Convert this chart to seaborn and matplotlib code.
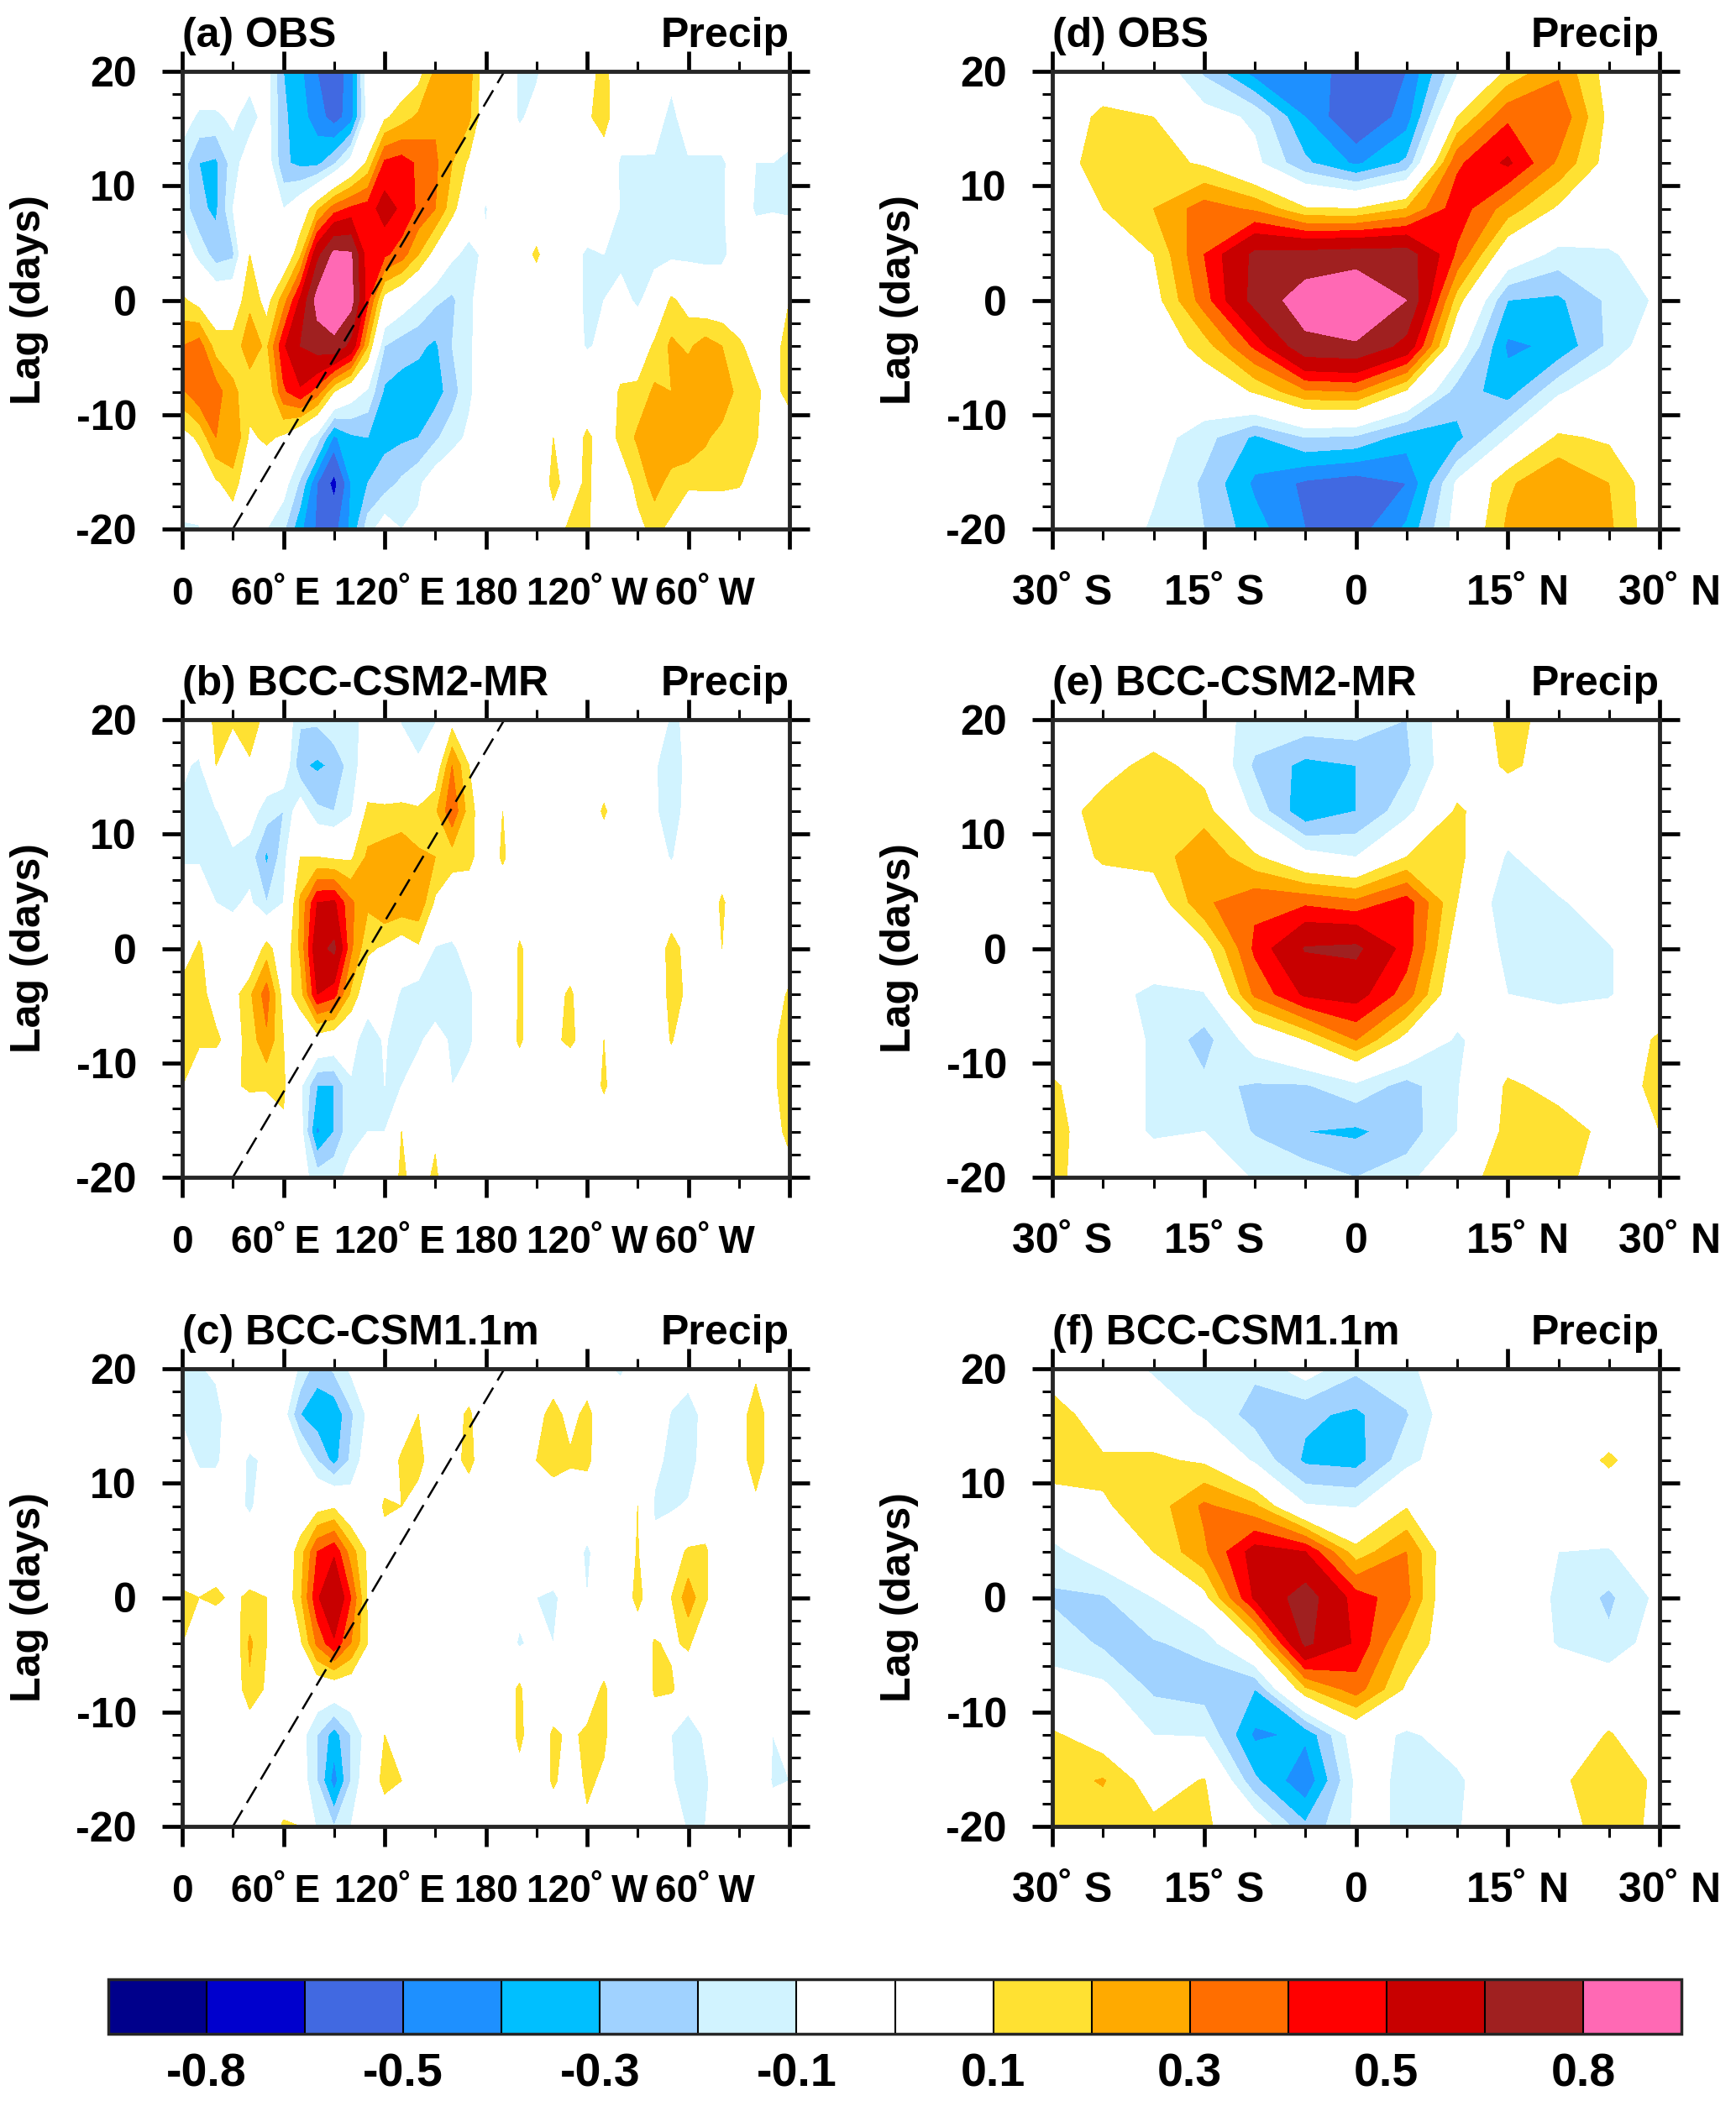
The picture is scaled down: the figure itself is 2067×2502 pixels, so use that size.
import numpy as np
import matplotlib
matplotlib.use('Agg')
import matplotlib.pyplot as plt
import matplotlib.transforms as mtrans
import seaborn as sns

# lag rows run from +20 down to -20 days, values are hundredths of the colorbar unit
lags = [20, 16, 12, 8, 4, 0, -4, -8, -12, -16, -20]
lons = list(range(0, 361, 10))
lats = list(range(-30, 31, 5))

levels = [-0.8, -0.65, -0.5, -0.4, -0.3, -0.2, -0.1, 0, 0.1, 0.2, 0.3, 0.4, 0.5, 0.65, 0.8]
shades = ['#00008B', '#0000CD', '#4169E1', '#1E90FF', '#00BFFF', '#A0D2FF', '#D1F3FF', '#FFFFFF',
          '#FFFFFF', '#FFE132', '#FFAA00', '#FF6E00', '#FF0000', '#C80000', '#A02020', '#FF69B4']
cbar_ticks = [-0.8, -0.5, -0.3, -0.1, 0.1, 0.3, 0.5, 0.8]

lon_ticks = [0, 60, 120, 180, 240, 300, 360]
lon_labels = ['0', '60˚\u2009E', '120˚\u2009E', '180', '120˚\u2009W', '60˚\u2009W', '']
lat_ticks = [-30, -15, 0, 15, 30]
lat_labels = ['30˚ S', '15˚ S', '0', '15˚ N', '30˚ N']

# dashed reference line on the longitude panels
dash_lon = [30, 191]
dash_lag = [-20, 20]

obs_lon = [
    [0, 0, 0, -8, -5, -5, -30, -38, -50, -58, -45, -3, 0, 0, 5, 22, 28, 25, 0, 0, -12, -12, 0, 0, 5, 14, 0, 0, 0, -5, 0, 0, 0, 0, 0, 0, 0],
    [-5, -12, -12, -8, -15, -5, -28, -36, -45, -55, -45, -5, 8, 15, 22, 28, 30, 22, 0, 0, -12, -5, 0, 0, 8, 15, 0, 0, -2, -15, 0, 0, 0, 0, 0, -8, -5],
    [-15, -30, -32, -15, -3, -3, -28, -33, -33, -22, -5, 12, 42, 45, 38, 32, 20, 8, 0, 0, 0, 0, 0, 0, 10, 3, -12, -12, -12, -20, -12, -12, -12, -3, -10, -10, -12],
    [-14, -28, -32, -10, 0, -3, -10, 0, 18, 35, 42, 45, 55, 48, 38, 30, 14, -3, -11, 0, 0, 0, 0, 0, 0, 0, -11, -11, -11, -20, -11, -11, -11, -5, -11, -11, -12],
    [-3, -13, -25, -22, 10, -10, -3, 18, 60, 84, 82, 42, 42, 35, 20, 5, -8, -13, -8, 0, 3, 12, 0, -5, -12, -10, -13, -13, -13, -13, -13, -13, -13, -3, -5, 0, 0],
    [12, 5, 0, 0, 18, 5, 25, 52, 86, 92, 86, 42, 5, -3, -10, -18, -22, -12, -4, 0, 0, 0, 0, -5, -12, -10, -6, -12, -4, 12, 5, 0, 0, 0, 0, 0, 10],
    [30, 35, 15, 15, 25, 18, 48, 65, 72, 76, 60, 20, -20, -25, -28, -32, -20, -12, -3, 0, 0, 0, 0, -5, -11, -8, 0, 0, 12, 22, 18, 25, 20, 12, 5, 5, 15],
    [28, 38, 35, 22, 15, 10, 38, 48, 35, 10, -3, -12, -32, -35, -35, -35, -25, -12, -3, 0, 0, 0, 0, 0, 0, 0, 12, 13, 22, 20, 28, 30, 30, 15, 12, 5, 15],
    [5, 12, 30, 30, 8, 12, 8, -3, -15, -42, -32, -30, -33, -32, -30, -22, -14, -8, 0, 0, 0, 0, 10, 3, 12, 5, 12, 22, 24, 30, 28, 22, 15, 13, 11, 2, 0],
    [0, 0, 8, 15, 0, 0, -5, -22, -50, -70, -40, -30, -25, -18, -12, -3, 0, 0, 0, 0, 0, 0, 13, 5, 12, 3, 5, 12, 25, 15, 13, 12, 12, 11, 5, 0, 0],
    [-12, -11, 10, 2, -5, -10, -18, -38, -52, -54, -38, -15, -3, -10, -8, 0, 0, 0, 0, 0, 0, 0, 5, 12, 12, 0, 0, 8, 12, 8, -8, 0, 0, 0, 0, 0, 0],
]

csm2_lon = [
    [3, 0, 13, 12, 18, 5, 0, -18, -18, -11, -15, -5, -3, -11, -17, -11, 5, 0, -8, 0, 0, 0, 0, 0, 0, 0, 0, 0, 0, -12, -8, 10, 0, 0, 0, 0, 0],
    [-8, -12, 10, 0, 8, 0, 0, -28, -32, -28, -15, -3, -2, -3, -8, 0, 30, 10, 0, 0, 0, 0, 0, 0, 0, 0, 0, 0, -8, -20, -5, 0, 0, 0, 0, 0, -8],
    [-12, -15, -11, -3, -5, -15, -20, -2, -18, -20, -12, 13, 12, 13, 12, 18, 38, 15, 0, 10, 0, 0, 0, 0, 0, 12, 0, 0, -8, -18, -4, 0, 0, 0, 0, 0, -3],
    [-12, -12, -12, -12, -15, -32, -14, 10, 10, 8, 8, 22, 25, 28, 22, 20, 15, 14, 0, 12, 0, 0, 0, 0, 0, 0, 0, 0, -5, -11, -3, 0, 0, 0, 0, 0, 0],
    [0, 0, -10, -12, -8, -20, -10, 22, 50, 52, 32, 22, 30, 28, 28, 8, 0, 0, 0, 0, 0, 0, 0, 0, 0, 0, 0, 0, 0, 0, 0, 0, 12, 0, 0, 0, 0],
    [2, 12, 0, -3, -5, 15, 0, 22, 60, 68, 32, 12, 8, 2, 8, -11, -12, -5, -3, -10, 12, 0, 0, 0, 0, 0, 0, 0, 0, 15, 5, 0, 10, 0, 0, 0, 0],
    [15, 14, 5, 5, 18, 35, 5, 15, 50, 44, 18, 0, 0, -12, -18, -18, -13, -12, -3, -10, 12, 0, 5, 12, 0, 0, 0, 0, 0, 14, 8, 0, 0, 0, 0, 3, 12],
    [15, 12, 12, 5, 14, 28, 10, 0, 3, 0, -3, -20, -8, -20, -12, -5, -12, -12, -3, 0, 12, 0, 8, 12, 5, 10, 0, 0, 0, 11, 0, 0, 0, 0, 0, 8, 15],
    [10, 0, 0, 8, 12, 12, 12, -8, -30, -30, -12, -18, -10, -10, -4, -3, -10, -5, 0, 0, 0, 0, 0, 0, 0, 12, 0, 0, 0, 0, 0, 0, 0, 0, 0, 8, 15],
    [10, 0, 0, 0, -3, -5, 8, -5, -42, -30, -12, -10, -10, 10, 5, 8, 0, 0, 0, 0, -10, -8, -3, -10, 0, 0, 0, 0, 0, 5, 0, 0, 0, 10, 0, 3, 15],
    [0, -8, 0, 0, -8, -10, 0, -5, -15, -12, -8, 0, 0, 12, 5, 12, 0, 0, 0, 0, -8, -10, -5, -10, 0, 8, 0, 0, 0, 8, 0, 0, 0, 0, 0, 0, 3],
]

csm11_lon = [
    [-12, -11, -8, 0, 0, 0, 0, -12, -26, -18, -8, 0, 0, 0, 0, -3, 0, 0, 0, 0, 0, 0, 0, 0, 0, -8, -12, -3, 0, 0, 0, 0, 0, 0, 5, 0, 0],
    [-12, -14, -14, -3, 0, -8, -5, -30, -36, -38, -22, -8, -3, 0, 10, 0, 5, 12, 0, 0, 0, 5, 15, 5, 14, 0, 0, 0, 0, -11, -20, -3, 0, 0, 20, 0, 0],
    [-3, -12, -12, -3, -12, -8, -3, -5, -20, -34, -18, -3, 0, 12, 15, 0, 5, 14, 0, 0, 0, 10, 14, 12, 13, 0, 0, 0, -8, -12, -20, 0, -8, 0, 20, 0, 0],
    [0, 0, 0, -5, -12, -3, 0, 0, 5, 8, -3, -3, 12, 10, 3, 0, 0, 0, 0, 0, 0, 10, 3, 0, 0, 0, 0, 10, -11, -12, -8, 0, -10, 0, 5, 0, 0],
    [0, 0, 3, 8, 0, 0, 0, 15, 40, 48, 25, 8, 3, 0, 0, 0, 0, 0, 0, 0, 0, 0, 0, -3, -12, -3, 0, 11, -8, 3, 12, 12, 0, 0, -9, 8, 3],
    [12, 10, 12, 8, 12, 10, 0, 18, 48, 65, 40, 8, 0, -8, -10, 0, 0, -10, 0, 0, -5, -10, -12, -5, -10, -3, 0, 14, 0, 10, 26, 12, 0, -5, -10, 0, 0],
    [10, 0, 0, 0, 22, 10, 0, 8, 32, 48, 30, 10, 0, -8, -8, 0, -8, -5, 0, 0, -12, -5, -10, 0, 0, 0, 5, 0, 11, 8, 12, 0, 0, -8, -5, 0, 0],
    [0, 0, 0, 0, 18, 8, 0, 0, 0, 0, 0, 0, 0, 0, 0, 0, 0, 0, 0, 0, 13, -8, 0, 0, 3, 12, 0, 0, 11, 12, 0, 0, 0, 0, 0, 0, 0],
    [0, 0, 0, 0, 0, 0, 0, -5, -20, -35, -20, -5, 10, 0, 0, 0, 0, 0, 0, 0, 13, 0, 12, 8, 12, 12, 0, 0, 5, -10, -18, -8, 0, 0, 0, -10, -8],
    [0, 0, 0, -3, -10, -8, -2, -3, -20, -45, -20, 0, 14, 10, 0, 3, 10, 10, 0, 0, 5, 0, 12, 3, 12, 8, 0, 0, 0, -8, -20, -12, -3, 0, 8, -12, -10],
    [0, 0, 0, 0, -10, 0, 12, 10, -12, -20, -10, 5, 0, 0, 0, 10, 10, 10, 0, 10, 0, 0, 0, 0, 8, 0, 0, 0, 0, 0, -12, -10, 0, 0, 10, 0, 0],
]

obs_lat = [
    [0, 0, 0, -22, -45, -45, -55, -50, -12, 12, 28, 5, 10],
    [0, 13, 10, -5, -12, -40, -62, -45, 10, 38, 38, 7, 10],
    [0, 18, 15, 8, -7, -28, -42, -28, 38, 52, 28, 5, 0],
    [0, 10, 20, 35, 28, 11, 10, 20, 46, 25, 8, 3, 0],
    [0, 0, 10, 40, 68, 70, 72, 72, 38, 0, -14, -12, -2],
    [0, 0, 5, 35, 70, 88, 96, 80, 15, -30, -32, -18, -8],
    [0, -10, 0, 15, 42, 76, 78, 60, -3, -42, -38, -18, 0],
    [0, 0, 0, 0, 11, 28, 30, 8, -25, -35, -12, 0, 0],
    [0, 0, -5, -16, -32, -20, -22, -35, -33, -10, 12, 8, 0],
    [0, 0, -8, -22, -42, -52, -56, -50, -8, 18, 30, 20, 0],
    [0, 0, -12, -20, -36, -50, -55, -38, -5, 22, 30, 22, 0],
]

csm2_lat = [
    [0, 0, 0, -5, -13, -13, -12, -20, 0, 14, 5, 0, 0],
    [0, 5, 14, 5, -22, -33, -30, -22, 0, 12, 5, 0, 0],
    [3, 15, 19, 15, -13, -38, -30, -14, 12, 0, 0, 0, 0],
    [0, 12, 14, 28, 12, -5, -10, 10, 14, -12, 0, 0, 0],
    [0, 0, 2, 28, 38, 38, 33, 45, 10, -20, -12, -2, 0],
    [0, -9, 0, 5, 42, 66, 68, 45, 3, -13, -14, -11, 0],
    [0, -5, -13, -11, 32, 52, 55, 35, -2, -10, -13, -11, 0],
    [0, 0, -12, -24, -4, 10, 30, 5, -12, 0, 0, 0, 12],
    [12, 0, -12, -18, -21, -21, -13, -24, -11, 12, 6, 0, 15],
    [15, 0, -12, -10, -21, -30, -32, -25, -10, 14, 15, 7, 10],
    [14, 0, 0, -2, -11, -14, -20, -15, 7, 13, 13, 5, 0],
]

csm11_lat = [
    [0, 0, -12, -20, -18, -4, -18, -12, -3, 0, 0, 0, 0],
    [18, 0, 0, -12, -24, -28, -32, -21, 0, 0, 0, 0, 0],
    [20, 12, 12, 8, -12, -32, -34, -14, 0, 0, 0, 12, 0],
    [0, 9, 14, 32, 22, -9, -11, 9, 0, 0, 0, 0, 0],
    [-13, -3, 10, 28, 55, 50, 14, 30, -5, 0, -10, -11, 0],
    [-22, -21, -10, 6, 52, 72, 45, 33, -8, 0, -12, -22, -7],
    [-12, -22, -21, -17, 9, 68, 48, 18, 0, 0, -11, -18, -3],
    [-8, -7, -22, -25, -30, 18, 35, 8, 0, 0, 0, 0, 0],
    [12, 2, -10, -11, -42, -38, -3, -12, -5, 0, 0, 11, 0],
    [15, 21, 3, 11, -28, -48, -8, -11, -12, 0, 8, 16, 8],
    [12, 13, 13, 12, 0, -28, -8, -11, -11, 0, 6, 14, 8],
]

panels = [
    ('(a) OBS', obs_lon, lons, 0, 0), ('(b) BCC-CSM2-MR', csm2_lon, lons, 1, 0), ('(c) BCC-CSM1.1m', csm11_lon, lons, 2, 0),
    ('(d) OBS', obs_lat, lats, 0, 1), ('(e) BCC-CSM2-MR', csm2_lat, lats, 1, 1), ('(f) BCC-CSM1.1m', csm11_lat, lats, 2, 1),
]

sns.set_style('white')
plt.rcParams['font.family'] = ['Liberation Sans', 'DejaVu Sans']
plt.rcParams['font.weight'] = 'bold'
plt.rcParams['axes.titleweight'] = 'bold'
plt.rcParams['axes.labelweight'] = 'bold'
plt.rcParams['axes.unicode_minus'] = False
plt.rcParams['text.color'] = 'black'
plt.rcParams['axes.labelcolor'] = 'black'
plt.rcParams['xtick.color'] = 'black'
plt.rcParams['ytick.color'] = 'black'

W, H = 2067, 2502
fig = plt.figure(figsize=(W / 100, H / 100), dpi=100, facecolor='white')
palette = sns.color_palette(shades)

col_left = [217, 1253]
col_width = 723
row_top = [85, 857, 1630]
row_height = 545
FS = 36

cf = None
for title, grid, xs, row, col in panels:
    ax = fig.add_axes([col_left[col] / W, 1 - (row_top[row] + row_height) / H, col_width / W, row_height / H])
    z = np.array(grid) / 100
    cf = ax.contourf(xs, lags, z, levels=levels, colors=palette, extend='both')
    if col == 0:
        ax.plot(dash_lon, dash_lag, color='k', lw=1.8, ls=(0, (9, 4)))
        ax.set_xlim(0, 360)
        ax.set_xticks(lon_ticks)
        ax.set_xticklabels(lon_labels)
        ax.set_xticks(range(30, 360, 60), minor=True)
        offsets = [0, -9, 6, 0, 0, 20, 0]
    else:
        ax.set_xlim(-30, 30)
        ax.set_xticks(lat_ticks)
        ax.set_xticklabels(lat_labels)
        ax.set_xticks(range(-25, 30, 5), minor=True)
        offsets = [12, 12, 0, 12, 12]
    ax.set_ylim(-20, 20)
    ax.set_yticks([-20, -10, 0, 10, 20])
    ax.set_yticks(range(-18, 20, 2), minor=True)
    ax.tick_params(which='major', direction='out', length=17, width=3.4, top=True, right=True, bottom=True, left=True,
                   labelsize=FS, pad=22)
    ax.tick_params(which='minor', direction='out', length=9, width=2.2, top=True, right=True, bottom=True, left=True)
    if col == 0:
        ax.tick_params(axis='x', which='major', labelsize=33, pad=23)
    for lab, dx in zip(ax.get_xticklabels(), offsets):
        lab.set_transform(lab.get_transform() + mtrans.ScaledTranslation(dx / 100, 0, fig.dpi_scale_trans))
    for s in ax.spines.values():
        s.set_linewidth(3.5)
    ax.set_ylabel('Lag (days)', fontsize=FS)
    ax.yaxis.set_label_coords(-0.22, 0.5)
    ax.set_title(title, loc='left', fontsize=FS, pad=21)
    ax.set_title('Precip', loc='right', fontsize=FS, pad=21)

cax = fig.add_axes([129 / W, 1 - 2422 / H, 1873 / W, 65 / H])
cb = fig.colorbar(cf, cax=cax, orientation='horizontal', extendrect=True, extendfrac='auto', spacing='uniform', drawedges=True)
cb.set_ticks(cbar_ticks)
cb.set_ticklabels(['%.1f' % v for v in cbar_ticks])
cb.ax.tick_params(length=0, labelsize=40, pad=16)
cb.outline.set_linewidth(2.5)
cb.dividers.set_color('k')
cb.dividers.set_linewidth(1.5)

fig.savefig('out.png', dpi=100, facecolor='white')
